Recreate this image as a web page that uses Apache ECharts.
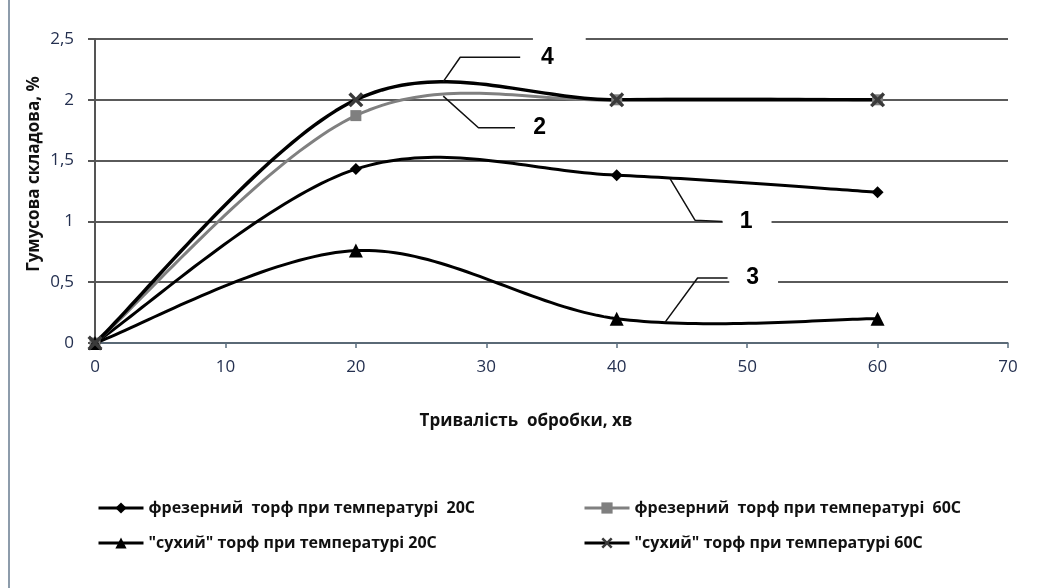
<!DOCTYPE html>
<html>
<head>
<meta charset="utf-8">
<script src="https://cdn.jsdelivr.net/npm/echarts@6/dist/echarts.min.js"></script>
<style>
  html, body { margin: 0; padding: 0; background: #ffffff; }
  #chart { width: 1050px; height: 588px; }
</style>
</head>
<body>
<div id="chart"></div>
<script>
// Processing time, min
const durations = [0, 20, 40, 60];

// Humus fraction, %
const milledPeat20 = [0, 1.43, 1.38, 1.24];
const milledPeat60 = [0, 1.87, 2.0, 2.0];
const dryPeat20 = [0, 0.76, 0.2, 0.2];
const dryPeat60 = [0, 2.0, 2.0, 2.0];

const seriesNames = [
  'фрезерний  торф при температурі  20С',
  'фрезерний  торф при температурі  60С',
  '"сухий" торф при температурі 20С',
  '"сухий" торф при температурі 60С'
];

const xTicks = { min: 0, max: 70, step: 10 };
const yTicks = { min: 0, max: 2.5, step: 0.5 };

// Curve numbers and their leader lines, in data units (anchor = centre of the label box)
const curveTags = ['4', '2', '1', '3'];
const tagAnchors = [[35.6, 2.35], [34.1, 1.77], [50.0, 1.0], [50.5, 0.535]];
const leaderX = [[26.7, 28.0, 32.6], [26.7, 29.4, 32.2], [44.1, 46.0, 48.1], [43.7, 46.2, 48.5]];
const leaderY = [[2.15, 2.35, 2.35], [2.03, 1.77, 1.77], [1.35, 1.01, 1.0], [0.17, 0.535, 0.535]];

const pairs = (xs, ys) => xs.map((x, i) => [x, ys[i]]);

const crossSymbol = 'path://M0,1.6 L1.6,0 L5,3.4 L8.4,0 L10,1.6 L6.6,5 L10,8.4 L8.4,10 L5,6.6 L1.6,10 L0,8.4 L3.4,5 Z';

const fontFamily = '"Open Sans", "Liberation Sans", sans-serif';

const curveStyles = [
  { color: '#000000', width: 3 },
  { color: '#808080', width: 3 },
  { color: '#000000', width: 3 },
  { color: '#000000', width: 3.5 }
];

// Markers + legend entry (the connecting line itself is drawn by a custom series)
function markers(name, values, symbol, size, symColor) {
  return {
    name: name,
    type: 'line',
    data: pairs(durations, values),
    symbol: symbol,
    symbolSize: size,
    showSymbol: true,
    lineStyle: { opacity: 0 },
    itemStyle: { color: symColor, borderWidth: 0 },
    z: 4
  };
}

// Cardinal (Catmull-Rom) spline through the points, computed in pixel space
function splineCurve(values, style) {
  return {
    type: 'custom',
    coordinateSystem: 'cartesian2d',
    silent: true,
    data: pairs(durations, values),
    encode: { x: 0, y: 1 },
    z: 3,
    renderItem: function (params, api) {
      if (params.dataIndex !== 0) return null;
      const pts = durations.map((d, i) => api.coord([d, values[i]]));
      const out = [pts[0]];
      const steps = 40;
      for (let i = 0; i < pts.length - 1; i++) {
        const p0 = pts[i - 1] || pts[i];
        const p1 = pts[i];
        const p2 = pts[i + 1];
        const p3 = pts[i + 2] || p2;
        const c1 = [p1[0] + (p2[0] - p0[0]) / 6, p1[1] + (p2[1] - p0[1]) / 6];
        const c2 = [p2[0] - (p3[0] - p1[0]) / 6, p2[1] - (p3[1] - p1[1]) / 6];
        for (let s = 1; s <= steps; s++) {
          const t = s / steps, u = 1 - t;
          const a = u * u * u, b = 3 * u * u * t, c = 3 * u * t * t, d = t * t * t;
          out.push([
            a * p1[0] + b * c1[0] + c * c2[0] + d * p2[0],
            a * p1[1] + b * c1[1] + c * c2[1] + d * p2[1]
          ]);
        }
      }
      return {
        type: 'polyline',
        shape: { points: out },
        style: { fill: null, stroke: style.color, lineWidth: style.width, lineJoin: 'round', lineCap: 'round' }
      };
    }
  };
}

const series = [
  splineCurve(milledPeat20, curveStyles[0]),
  splineCurve(milledPeat60, curveStyles[1]),
  splineCurve(dryPeat20, curveStyles[2]),
  splineCurve(dryPeat60, curveStyles[3]),
  markers(seriesNames[0], milledPeat20, 'diamond', 12, '#000000'),
  markers(seriesNames[1], milledPeat60, 'rect', 11, '#7f7f7f'),
  markers(seriesNames[2], dryPeat20, 'triangle', 14, '#000000'),
  markers(seriesNames[3], dryPeat60, crossSymbol, 15, '#3a3a3a')
];

leaderX.forEach((xs, i) => {
  series.push({
    type: 'line',
    silent: true,
    data: pairs(xs, leaderY[i]),
    symbol: 'none',
    lineStyle: { color: '#111111', width: 1.5 },
    z: 5
  });
});

// Label boxes are white so they break the gridlines behind them
const tagPadding = [[11, 32, 11, 8], [11, 17, 11, 17], [11, 19, 11, 17], [11, 19, 11, 17]];

series.push({
  type: 'scatter',
  silent: true,
  symbolSize: 0,
  itemStyle: { opacity: 1 },
  data: tagAnchors.map((p, i) => ({
    value: p,
    tag: curveTags[i],
    label: { padding: tagPadding[i] }
  })),
  label: {
    show: true,
    position: 'inside',
    formatter: (p) => p.data.tag,
    fontFamily: '"Liberation Sans", Arial, sans-serif',
    fontWeight: 'bold',
    fontSize: 23,
    color: '#000000',
    opacity: 1,
    backgroundColor: '#ffffff'
  },
  emphasis: { disabled: true },
  z: 6
});

const legendText = { fontFamily: fontFamily, fontSize: 16, fontWeight: 'bold', color: '#111111' };

const chart = echarts.init(document.getElementById('chart'), null, { renderer: 'canvas' });

chart.setOption({
  animation: false,
  backgroundColor: '#ffffff',
  grid: { left: 95, right: 42, top: 39, bottom: 245, outerBoundsMode: 'none', containLabel: false },
  xAxis: {
    type: 'value',
    min: xTicks.min,
    max: xTicks.max,
    interval: xTicks.step,
    axisLine: { show: true, lineStyle: { color: '#5b6f80', width: 1.5 } },
    axisTick: { show: true, length: 5, lineStyle: { color: '#5b6f80', width: 1.5 } },
    axisLabel: { margin: 16, fontFamily: fontFamily, fontSize: 17, color: '#243050' },
    splitLine: { show: false }
  },
  yAxis: {
    type: 'value',
    min: yTicks.min,
    max: yTicks.max,
    interval: yTicks.step,
    axisLine: { show: true, lineStyle: { color: '#555555', width: 2 } },
    axisTick: { show: true, length: 7, lineStyle: { color: '#555555', width: 2 } },
    axisLabel: {
      margin: 21,
      fontFamily: fontFamily,
      fontSize: 17,
      color: '#243050',
      formatter: (v) => String(v).replace('.', ',')
    },
    splitLine: { show: true, lineStyle: { color: '#5a5a5a', width: 2 } }
  },
  legend: [
    {
      orient: 'vertical',
      left: 97,
      top: 500,
      padding: 0,
      data: [
        { name: seriesNames[0], lineStyle: { opacity: 1, color: '#000000', width: 3 } },
        { name: seriesNames[2], lineStyle: { opacity: 1, color: '#000000', width: 3 } }
      ],
      itemWidth: 45,
      itemHeight: 14,
      itemGap: 19,
      textStyle: legendText
    },
    {
      orient: 'vertical',
      left: 583,
      top: 500,
      padding: 0,
      data: [
        { name: seriesNames[1], lineStyle: { opacity: 1, color: '#808080', width: 3 } },
        { name: seriesNames[3], lineStyle: { opacity: 1, color: '#000000', width: 3 } }
      ],
      itemWidth: 45,
      itemHeight: 14,
      itemGap: 19,
      textStyle: legendText
    }
  ],
  graphic: [
    {
      type: 'rect',
      shape: { x: 8, y: 0, width: 2, height: 588 },
      style: { fill: '#8d9cab' },
      silent: true
    },
    {
      type: 'text',
      x: 34,
      y: 174,
      rotation: Math.PI / 2,
      style: {
        text: 'Гумусова складова, %',
        font: 'bold 17px "Open Sans", "Liberation Sans", sans-serif',
        fill: '#111111',
        textAlign: 'center',
        textVerticalAlign: 'middle'
      },
      silent: true
    },
    {
      type: 'text',
      x: 526,
      y: 421,
      style: {
        text: 'Тривалість  обробки, хв',
        font: 'bold 17px "Open Sans", "Liberation Sans", sans-serif',
        fill: '#111111',
        textAlign: 'center',
        textVerticalAlign: 'middle'
      },
      silent: true
    }
  ],
  series: series
});
</script>
</body>
</html>
